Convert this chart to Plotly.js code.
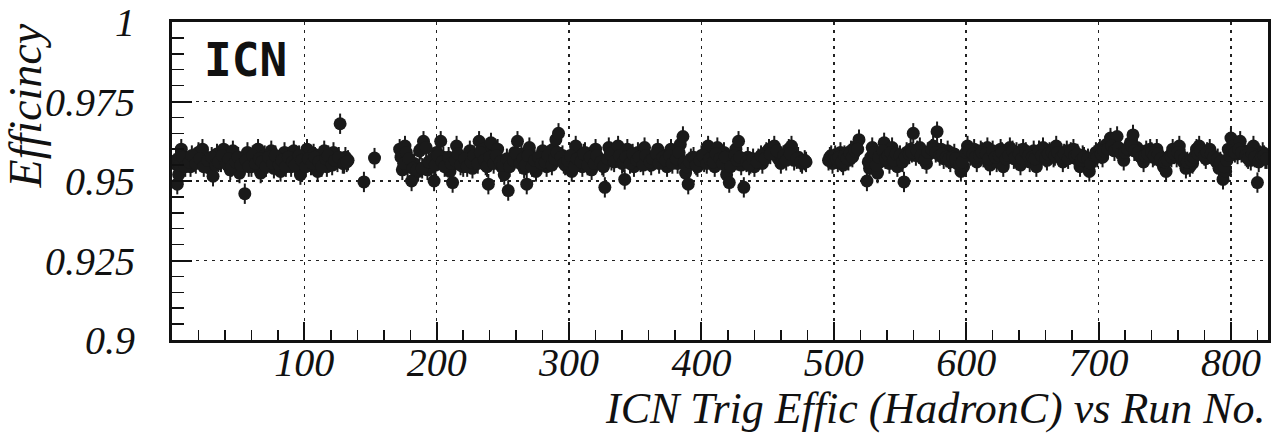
<!DOCTYPE html>
<html>
<head>
<meta charset="utf-8">
<script src="https://cdn.plot.ly/plotly-3.0.1.min.js"></script>
<style>
html,body{margin:0;padding:0;background:#fff;}
#chart{width:1279px;height:434px;}
</style>
</head>
<body>
<div id="chart"></div>
<script>
// ---- Data (run number, efficiency) ----
// outer envelope points
const runsA = [2,4,5,7,9,11,14,17,20,23,26,29,31,34,37,39,42,44,46,49,51,53,55,57,60,62,65,67,70,72,75,77,80,82,85,87,90,92,95,97,100,102,105,107,110,112,115,117,120,122,125,127,129,131,133,145,153];
const effA  = [0.9555,0.9490,0.9520,0.9600,0.9575,0.9560,0.9545,0.9570,0.9590,0.9600,0.9555,0.9540,0.9515,0.9585,0.9560,0.9600,0.9550,0.9535,0.9595,0.9565,0.9525,0.9560,0.9460,0.9590,0.9545,0.9570,0.9600,0.9525,0.9580,0.9555,0.9595,0.9540,0.9565,0.9530,0.9590,0.9560,0.9545,0.9595,0.9570,0.9520,0.9560,0.9600,0.9550,0.9585,0.9530,0.9565,0.9595,0.9545,0.9570,0.9590,0.9560,0.9680,0.9555,0.9575,0.9565,0.9497,0.9572];

const runsB = [172,174,176,178,181,183,186,188,190,193,196,198,200,203,205,208,210,212,215,217,220,222,225,227,230,232,235,237,239,241,244,246,249,251,254,256,259,261,264,266,268,270,273,275,278,280,283,285,288,290,292,295,297,300,302,305,307,310,312,315,317,320,322,325,327,330,332,335];
const effB  = [0.9600,0.9535,0.9610,0.9545,0.9500,0.9555,0.9530,0.9600,0.9625,0.9535,0.9545,0.9500,0.9590,0.9625,0.9575,0.9555,0.9530,0.9495,0.9610,0.9580,0.9545,0.9560,0.9595,0.9540,0.9575,0.9625,0.9600,0.9550,0.9490,0.9620,0.9570,0.9600,0.9545,0.9520,0.9470,0.9560,0.9590,0.9625,0.9585,0.9540,0.9490,0.9605,0.9560,0.9530,0.9575,0.9595,0.9545,0.9570,0.9600,0.9630,0.9650,0.9580,0.9550,0.9565,0.9530,0.9610,0.9575,0.9545,0.9590,0.9560,0.9535,0.9600,0.9570,0.9550,0.9480,0.9605,0.9565,0.9595];

const runsC = [337,340,342,344,347,349,352,354,357,359,362,364,367,369,372,374,377,379,382,384,386,388,390,392,395,397,400,402,405,407,410,412,415,417,419,421,423,426,428,430,432,435,437,440,443,446,449,451,455,458,460,466,468,470,473,476,479,497,499];
const effC  = [0.9610,0.9555,0.9505,0.9600,0.9575,0.9545,0.9590,0.9560,0.9605,0.9580,0.9550,0.9570,0.9600,0.9585,0.9560,0.9545,0.9600,0.9570,0.9555,0.9615,0.9640,0.9525,0.9490,0.9570,0.9555,0.9545,0.9580,0.9560,0.9610,0.9575,0.9545,0.9605,0.9565,0.9590,0.9520,0.9495,0.9560,0.9600,0.9625,0.9550,0.9480,0.9575,0.9555,0.9545,0.9570,0.9555,0.9590,0.9600,0.9610,0.9570,0.9555,0.9600,0.9610,0.9565,0.9575,0.9555,0.9560,0.9575,0.9555];

const runsD = [501,503,505,507,509,511,513,515,517,519,525,527,529,531,533,535,538,540,542,544,546,548,551,553,555,558,560,562,565,567,570,572,575,578,581,583,586,588,591,593,596,598,601,603,606,608,611,613,616,618,621,623,626,628,631,633,636,638,641,643,646,648,651,653,656,658,661,663,666];
const effD  = [0.9580,0.9560,0.9590,0.9550,0.9575,0.9565,0.9595,0.9585,0.9610,0.9630,0.9500,0.9540,0.9605,0.9590,0.9525,0.9560,0.9620,0.9590,0.9555,0.9605,0.9575,0.9545,0.9565,0.9497,0.9590,0.9600,0.9650,0.9580,0.9605,0.9570,0.9555,0.9585,0.9610,0.9655,0.9600,0.9570,0.9595,0.9560,0.9585,0.9555,0.9530,0.9545,0.9610,0.9580,0.9600,0.9560,0.9595,0.9575,0.9605,0.9550,0.9580,0.9560,0.9600,0.9545,0.9585,0.9605,0.9570,0.9590,0.9550,0.9600,0.9575,0.9560,0.9595,0.9545,0.9585,0.9605,0.9565,0.9590,0.9575];

const runsE = [668,671,673,676,678,681,683,686,688,691,693,696,698,701,703,706,709,711,714,716,719,721,724,726,729,731,734,736,739,741,744,746,749,751,754,756,759,761,764,766,769,771,774,776,779,781,784,786,789,791,794,796,798,800,802,805,807,810,812,815,817,820,822,824,826];
const effE  = [0.9610,0.9580,0.9560,0.9595,0.9585,0.9600,0.9570,0.9545,0.9580,0.9560,0.9530,0.9570,0.9590,0.9600,0.9575,0.9615,0.9635,0.9610,0.9640,0.9595,0.9565,0.9600,0.9620,0.9645,0.9605,0.9580,0.9560,0.9595,0.9600,0.9575,0.9600,0.9565,0.9545,0.9530,0.9580,0.9600,0.9575,0.9610,0.9560,0.9540,0.9545,0.9555,0.9600,0.9610,0.9590,0.9570,0.9600,0.9580,0.9560,0.9540,0.9505,0.9530,0.9600,0.9635,0.9610,0.9585,0.9625,0.9595,0.9575,0.9565,0.9610,0.9495,0.9580,0.9590,0.9570];

// dense core of the band
const runsA2 = [3,6,8,10,13,15,18,21,24,27,30,33,35,38,41,43,45,48,50,52,56,58,61,63,66,68,71,73,76,78,81,83,86,88,91,93,96,98,101,103,106,108,111,113,116,118,121,123,126,130,132];
const effA2  = [0.9565,0.9550,0.9575,0.9545,0.9560,0.9580,0.9555,0.9570,0.9545,0.9565,0.9575,0.9550,0.9560,0.9580,0.9555,0.9570,0.9545,0.9560,0.9575,0.9550,0.9565,0.9545,0.9580,0.9555,0.9570,0.9560,0.9545,0.9575,0.9555,0.9580,0.9550,0.9565,0.9545,0.9575,0.9560,0.9550,0.9580,0.9565,0.9545,0.9570,0.9555,0.9575,0.9560,0.9545,0.9570,0.9580,0.9550,0.9565,0.9575,0.9555,0.9560];

const runsB2 = [173,175,177,179,182,185,187,189,192,194,197,199,201,204,206,209,211,214,216,218,221,223,226,228,231,233,236,238,240,243,245,248,250,253,255,258,260,263,265,267,269,272,274,277,279,282,284,287,289,291,294,296,299,301,304,306,309,311,314,316,319,321,324,326,329,331,334];
const effB2  = [0.9575,0.9555,0.9590,0.9570,0.9540,0.9535,0.9595,0.9540,0.9605,0.9560,0.9570,0.9550,0.9580,0.9560,0.9545,0.9575,0.9555,0.9565,0.9585,0.9550,0.9570,0.9545,0.9560,0.9580,0.9555,0.9590,0.9565,0.9545,0.9575,0.9555,0.9580,0.9560,0.9550,0.9570,0.9545,0.9565,0.9585,0.9555,0.9570,0.9550,0.9580,0.9545,0.9565,0.9575,0.9555,0.9560,0.9580,0.9550,0.9570,0.9590,0.9575,0.9555,0.9565,0.9580,0.9545,0.9570,0.9560,0.9585,0.9550,0.9575,0.9555,0.9580,0.9560,0.9545,0.9570,0.9585,0.9560];

const runsC2 = [338,341,343,346,348,351,353,356,358,361,363,366,368,371,373,376,378,381,383,387,389,391,394,396,399,401,404,406,409,411,414,416,418,422,425,427,429,434,436,439,442,445,448,452,457,462,464,467,472,475,478,496,498,500];
const effC2  = [0.9580,0.9560,0.9575,0.9555,0.9585,0.9565,0.9575,0.9550,0.9580,0.9560,0.9570,0.9585,0.9555,0.9575,0.9565,0.9580,0.9555,0.9570,0.9590,0.9560,0.9545,0.9560,0.9575,0.9550,0.9565,0.9580,0.9555,0.9570,0.9560,0.9585,0.9570,0.9555,0.9575,0.9545,0.9580,0.9565,0.9575,0.9560,0.9550,0.9570,0.9560,0.9580,0.9570,0.9585,0.9595,0.9580,0.9565,0.9585,0.9570,0.9560,0.9565,0.9565,0.9580,0.9570];

const runsD2 = [502,504,506,508,510,512,514,516,518,526,528,530,532,534,537,539,541,543,545,547,550,552,554,557,559,563,566,569,571,574,577,580,582,585,587,590,592,595,597,600,602,605,607,610,612,615,617,620,622,625,627,630,632,635,637,640,642,645,647,650,652,655,657,660,662,665,667];
const effD2  = [0.9570,0.9575,0.9560,0.9580,0.9570,0.9585,0.9575,0.9595,0.9600,0.9560,0.9575,0.9590,0.9550,0.9575,0.9595,0.9570,0.9580,0.9590,0.9565,0.9585,0.9580,0.9560,0.9575,0.9585,0.9590,0.9595,0.9580,0.9570,0.9590,0.9600,0.9590,0.9580,0.9585,0.9575,0.9570,0.9575,0.9570,0.9555,0.9560,0.9590,0.9595,0.9585,0.9575,0.9580,0.9590,0.9585,0.9570,0.9595,0.9575,0.9580,0.9590,0.9570,0.9580,0.9595,0.9575,0.9585,0.9570,0.9590,0.9580,0.9575,0.9570,0.9595,0.9580,0.9575,0.9585,0.9590,0.9580];

const runsE2 = [669,672,674,677,679,682,684,687,689,692,694,697,699,702,704,707,710,712,715,717,720,722,725,727,730,732,735,737,740,742,745,747,750,752,755,757,760,762,765,767,770,772,775,777,780,782,785,787,790,792,795,797,799,801,803,806,808,811,813,816,818,821,823,825,827];
const effE2  = [0.9590,0.9575,0.9585,0.9570,0.9590,0.9580,0.9585,0.9565,0.9575,0.9570,0.9555,0.9580,0.9575,0.9585,0.9595,0.9600,0.9610,0.9595,0.9605,0.9585,0.9590,0.9600,0.9610,0.9595,0.9590,0.9575,0.9580,0.9585,0.9590,0.9580,0.9585,0.9570,0.9560,0.9565,0.9575,0.9585,0.9590,0.9580,0.9570,0.9560,0.9565,0.9575,0.9585,0.9595,0.9580,0.9590,0.9585,0.9575,0.9570,0.9560,0.9545,0.9565,0.9580,0.9595,0.9590,0.9600,0.9590,0.9580,0.9570,0.9585,0.9575,0.9560,0.9575,0.9580,0.9570];

const runs = [].concat(runsA, runsA2, runsB, runsB2, runsC, runsC2, runsD, runsD2, runsE, runsE2);
const eff  = [].concat(effA, effA2, effB, effB2, effC, effC2, effD, effD2, effE, effE2);
const effErr = 0.0032;

const yTickVals = [0.9, 0.925, 0.95, 0.975, 1];
const yTickText = ['0.9', '0.925', '0.95', '0.975', '1'];
const xTickVals = [100, 200, 300, 400, 500, 600, 700, 800];
const xTickText = ['100', '200', '300', '400', '500', '600', '700', '800'];

const xTitle = 'ICN Trig Effic (HadronC) vs Run No.';
const yTitle = 'Efficincy';
const panelLabel = 'ICN';

// ---- Plot ----
const ink = '#1a1a1a';
const serifFam = 'Liberation Serif, Times New Roman, serif';
const tickFont = {family: serifFam, size: 40, color: '#111', style: 'italic'};

const trace = {
  x: runs, y: eff, type: 'scatter', mode: 'markers',
  marker: {symbol: 'circle', size: 13, color: ink, line: {width: 0}},
  error_y: {type: 'constant', value: effErr, visible: true, thickness: 2, width: 0, color: ink},
  hoverinfo: 'skip'
};

const layout = {
  width: 1279, height: 434,
  margin: {l: 172, r: 11, t: 22, b: 94, pad: 0},
  paper_bgcolor: '#fff', plot_bgcolor: '#fff',
  showlegend: false,
  xaxis: {
    range: [0, 828], tickvals: xTickVals, ticktext: xTickText,
    ticks: 'inside', ticklen: 18, tickwidth: 2, tickcolor: '#111',
    showline: true, linewidth: 3, linecolor: '#111', mirror: true,
    showgrid: true, gridcolor: '#222', gridwidth: 1.5, griddash: '3px,5px',
    zeroline: false, tickfont: tickFont, ticklabelstandoff: -15,
    minor: {dtick: 20, tick0: 0, ticks: 'inside', ticklen: 10, tickwidth: 1.5, tickcolor: '#111', showgrid: false}
  },
  yaxis: {
    range: [0.9, 1.0], tickvals: yTickVals, ticktext: yTickText,
    ticks: 'inside', ticklen: 20, tickwidth: 2, tickcolor: '#111',
    showline: true, linewidth: 3, linecolor: '#111', mirror: true,
    showgrid: true, gridcolor: '#222', gridwidth: 1.5, griddash: '3px,5px',
    zeroline: false, tickfont: tickFont, ticklabelstandoff: 26,
    minor: {dtick: 0.005, tick0: 0.9, ticks: 'inside', ticklen: 12, tickwidth: 1.5, tickcolor: '#111', showgrid: false}
  },
  annotations: [
    {text: xTitle, xref: 'paper', yref: 'paper', x: 1.0, y: -0.215, xanchor: 'right', yanchor: 'middle',
     showarrow: false, font: {family: serifFam, size: 44, color: '#111', style: 'italic'}},
    {text: yTitle, xref: 'paper', yref: 'paper', x: -0.134, y: 0.735, xanchor: 'center', yanchor: 'middle',
     textangle: -90, showarrow: false, font: {family: serifFam, size: 46, color: '#111', style: 'italic'}},
    {text: '<b>' + panelLabel + '</b>', xref: 'paper', yref: 'paper', x: 0.067, y: 0.88, xanchor: 'center', yanchor: 'middle',
     showarrow: false, font: {family: 'DejaVu Sans Mono, monospace', size: 46, color: '#111'}}
  ]
};

Plotly.newPlot('chart', [trace], layout, {staticPlot: true, displayModeBar: false});
</script>
</body>
</html>
